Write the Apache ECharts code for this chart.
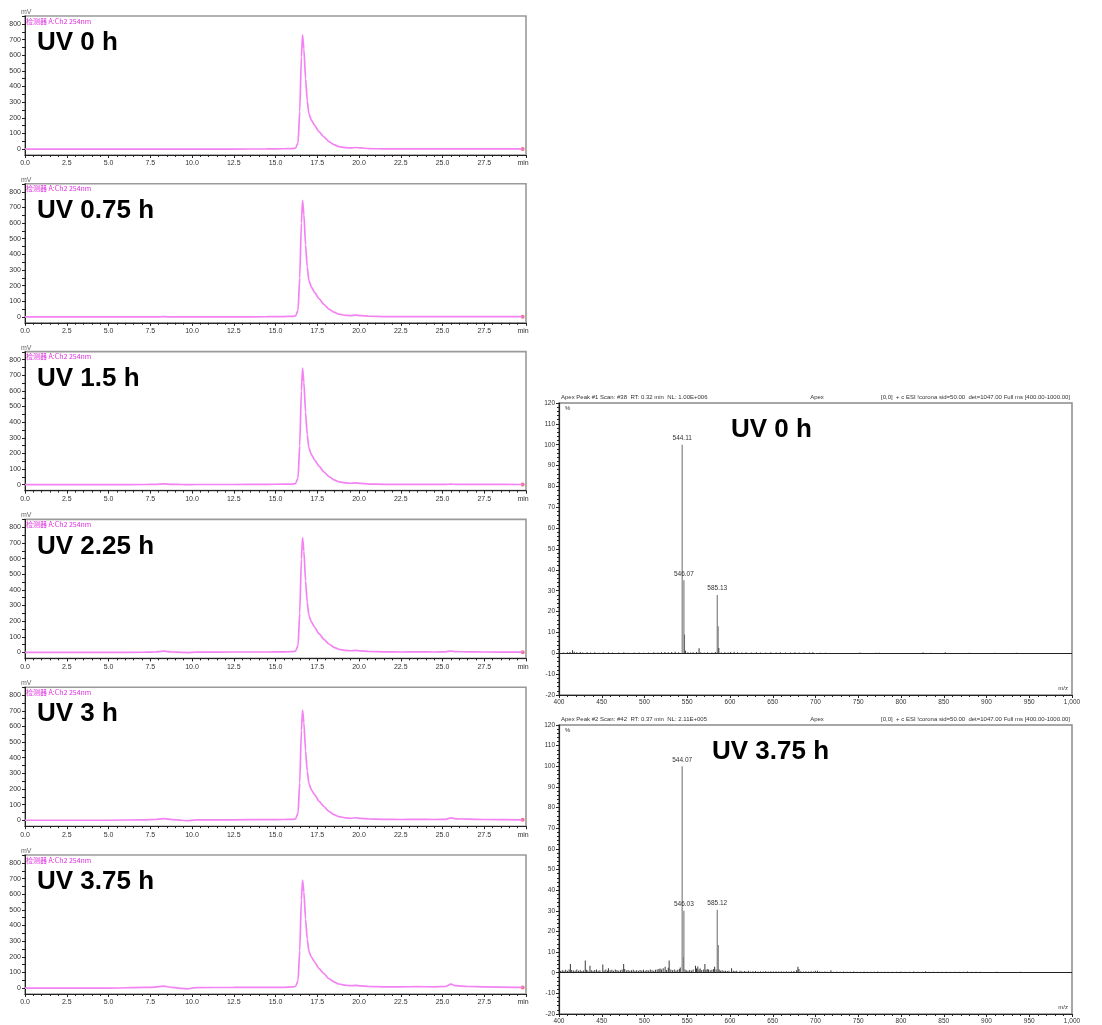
<!DOCTYPE html>
<html>
<head>
<meta charset="utf-8">
<script src="https://cdn.jsdelivr.net/npm/echarts@6/dist/echarts.min.js"></script>
<style>
  html, body { margin: 0; padding: 0; background: #fff; }
  #chart { width: 1102px; height: 1025px; }
</style>
</head>
<body>
<div id="chart"></div>
<script>
// ---- HPLC chromatograms (254 nm), retention time in min, signal in mV ----
const TIME = [0, 5, 7.2, 7.8, 8.3, 8.8, 9.4, 9.7, 10.2, 12.5, 14.5, 15.5, 16.0, 16.2, 16.35, 16.45, 16.55, 16.62, 16.7, 16.8,
  16.9, 17.0, 17.15, 17.35, 17.6, 17.9, 18.2, 18.5, 18.8, 19.2, 19.5, 19.8, 20.1, 20.6, 21.5, 22.5, 23.5, 24.5, 25.2, 25.5,
  25.8, 26.5, 27.5, 29.8];

const UV_0H    = [0, 0, 0, 0, 0, 0, 0, 0, 0, 0, 1, 2, 3, 6, 40, 240, 590, 730, 640, 450,
  310, 225, 185, 150, 112, 78, 48, 28, 16, 9, 7, 10, 7, 3, 1, 1, 1, 1, 1, 1, 1, 1, 1, 1];
const UV_075H  = [0, 0, 0, 0, 1, 0, 0, 0, 0, 0, 1, 2, 3, 6, 42, 250, 600, 745, 655, 460,
  318, 232, 190, 155, 116, 80, 50, 30, 17, 10, 8, 11, 8, 4, 2, 1, 1, 1, 1, 2, 1, 1, 1, 1];
const UV_15H   = [0, 0, 1, 2, 5, 2, 1, 0, 1, 1, 2, 3, 4, 7, 42, 250, 600, 745, 655, 462,
  320, 235, 192, 157, 118, 82, 52, 31, 18, 11, 9, 11, 8, 4, 2, 2, 2, 2, 2, 3, 2, 2, 2, 1];
const UV_225H  = [0, 0, 2, 3, 8, 3, 1, -1, 2, 3, 3, 4, 5, 8, 45, 250, 595, 735, 648, 458,
  320, 236, 195, 160, 120, 84, 54, 33, 20, 13, 11, 13, 10, 6, 4, 3, 4, 3, 4, 9, 5, 4, 3, 2];
const UV_3H    = [0, 0, 3, 5, 10, 4, 0, -3, 2, 3, 4, 5, 6, 9, 45, 240, 575, 705, 625, 445,
  315, 235, 195, 162, 123, 88, 57, 36, 23, 15, 13, 16, 12, 8, 6, 5, 6, 5, 6, 15, 9, 7, 5, 3];
const UV_375H  = [0, 0, 4, 6, 12, 5, -2, -5, 3, 4, 5, 5, 7, 10, 48, 240, 565, 690, 615, 440,
  312, 235, 198, 165, 126, 92, 60, 40, 26, 18, 15, 17, 14, 10, 8, 8, 9, 8, 10, 25, 15, 10, 8, 4];

const UV_RUNS = [UV_0H, UV_075H, UV_15H, UV_225H, UV_3H, UV_375H];
const UV_LABELS = ['UV 0 h', 'UV 0.75 h', 'UV 1.5 h', 'UV 2.25 h', 'UV 3 h', 'UV 3.75 h'];
const CHROM_Y_LABELS = [0, 100, 200, 300, 400, 500, 600, 700, 800];
const CHROM_Y_TICKS = [0, 50, 100, 150, 200, 250, 300, 350, 400, 450, 500, 550, 600, 650, 700, 750, 800, 850];
const DETECTOR_LABEL = '检测器 A:Ch2 254nm';

// ---- ESI mass spectra, m/z vs relative abundance (%) ----
const MS_LABELS = ['UV 0 h', 'UV 3.75 h'];
const MS_HEADERS_LEFT = [
  'Apex Peak #1 Scan: #38  RT: 0.32 min  NL: 1.00E+006',
  'Apex Peak #2 Scan: #42  RT: 0.37 min  NL: 2.11E+005'
];
const MS_HEADER_MID = 'Apex';
const MS_HEADER_RIGHT = '[0,0]  + c ESI !corona sid=50.00  det=1047.00 Full ms [400.00-1000.00]';

const MS_PEAKS_0H = [[544.11, 100], [546.07, 35], [585.13, 28]];
const MS_NOISE_0H = [
  [405, 0.4], [410, 0.5], [413, 0.6], [416, 1.5], [418, 0.7], [421, 0.5], [425, 0.6], [428, 0.4], [433, 0.5],
  [437, 0.4], [442, 0.5], [447, 0.3], [452, 0.4], [458, 0.5], [463, 0.4], [470, 0.4], [476, 0.5], [481, 0.3],
  [488, 0.4], [494, 0.4], [499, 0.3], [505, 0.4], [511, 0.5], [516, 0.4], [520, 0.5], [524, 0.6], [528, 0.5],
  [532, 0.6], [536, 0.7], [540, 0.5], [547.0, 9], [548.2, 1.2], [551, 0.5], [554, 0.4], [557, 0.5], [561, 0.6],
  [564, 2.4], [566, 0.5], [570, 0.4], [574, 0.5], [579, 0.4], [583, 0.6], [586.1, 13], [587.1, 2.5], [590, 0.4],
  [594, 0.5], [598, 0.4], [601, 0.6], [605, 0.7], [609, 0.5], [614, 0.4], [619, 0.5], [625, 0.4], [631, 0.5],
  [636, 0.4], [642, 0.4], [648, 0.5], [654, 0.4], [659, 0.5], [665, 0.4], [671, 0.4], [676, 0.5], [681, 0.4],
  [687, 0.4], [693, 0.4], [697, 0.5], [706, 0.3], [712, 0.3], [752, 0.4], [771, 0.3], [775, 0.3], [826, 0.4],
  [835, 0.3], [852, 0.5], [880, 0.3], [910, 0.3], [935, 0.3]
];

const MS_PEAKS_375H = [[544.07, 100], [546.03, 30], [585.12, 30.5]];
const MS_NOISE_375H = [
  [402, 0.8], [404, 1.2], [406, 0.9], [408, 1.4], [410, 1.0], [412, 1.6], [413.5, 4.2], [415, 1.3], [417, 1.1],
  [419, 0.9], [421, 1.5], [423, 1.0], [425, 1.3], [427, 0.8], [429, 1.1], [430.9, 5.9], [432.5, 1.4], [434, 1.0],
  [436.4, 3.4], [438, 1.2], [440, 0.9], [442, 1.3], [444, 1.6], [446, 1.0], [448, 1.2], [451.4, 4.0], [453, 1.1],
  [455, 1.5], [457, 0.9], [458, 2.2], [460, 1.2], [462, 1.4], [464, 1.0], [466, 1.6], [468, 1.3], [470, 1.0],
  [472, 1.2], [474, 1.5], [475.8, 4.2], [477, 1.8], [479, 1.1], [481, 1.3], [483, 0.9], [485, 1.2], [487, 1.4],
  [489, 1.0], [491, 1.2], [493, 0.9], [495, 1.3], [497, 1.1], [499, 1.4], [501, 1.0], [503, 1.3], [505, 1.1],
  [507, 1.5], [509, 1.2], [511, 1.0], [513, 1.4], [515, 1.6], [517, 1.8], [518.4, 2.0], [520, 1.5], [522, 2.2],
  [524.3, 2.9], [526, 1.3], [528, 2.4], [529, 5.9], [531, 1.6], [533, 1.2], [535, 1.5], [537, 1.1], [539, 1.4],
  [541, 1.8], [542, 2.5], [545.6, 7.5], [547.5, 1.5], [549, 1.2], [551, 1.0], [553, 1.3], [555, 1.1], [557, 1.6],
  [559.8, 3.4], [561, 2.0], [562.5, 3.0], [564, 1.5], [565.3, 2.0], [567, 1.2], [569, 1.5], [570.8, 4.2], [572, 1.3],
  [573.5, 1.8], [575, 1.5], [577, 1.2], [579, 1.4], [581, 1.8], [582.2, 2.9], [584, 1.5], [586.2, 13.4], [587.5, 1.6],
  [589, 1.0], [591, 1.2], [593, 0.9], [595, 1.0], [597, 0.8], [599, 1.0], [602, 2.2], [604, 1.0], [606, 0.8],
  [608, 0.9], [611.8, 1.0], [614, 0.7], [617, 0.8], [619, 0.6], [621.7, 0.9], [624, 0.6], [627, 0.7], [630, 0.8],
  [633, 0.6], [636, 0.7], [639, 0.6], [642, 0.8], [645, 0.6], [648, 0.7], [651, 0.6], [654, 0.7], [657, 0.6],
  [660, 0.7], [663, 0.6], [666, 0.7], [669, 0.6], [672, 0.7], [675, 0.8], [678, 1.2], [679.6, 2.9], [680.8, 1.8],
  [683, 0.7], [686, 0.6], [689, 0.7], [692, 0.6], [695, 0.7], [698, 0.6], [700, 0.9], [702.5, 1.0], [705, 0.6],
  [708, 0.5], [711, 0.6], [714, 0.5], [718.2, 1.2], [721, 0.5], [725, 0.6], [729, 0.5], [733, 0.6], [737, 0.5],
  [741, 0.5], [745, 0.6], [749, 0.5], [753, 0.5], [757, 0.6], [761, 0.5], [765, 0.5], [769, 0.5], [773, 0.6],
  [777, 0.5], [781, 0.5], [785, 0.5], [790, 0.5], [795, 0.5], [800, 0.6], [805, 0.5], [810, 0.5], [815, 0.6],
  [820, 0.5], [825, 0.5], [829, 0.7], [833, 0.5], [838, 0.5], [843, 0.5], [848, 0.5], [853, 0.5], [858, 0.5],
  [863, 0.5], [868, 0.5], [873, 0.5], [878, 0.6], [883, 0.5], [888, 0.5], [893, 0.5], [898, 0.4], [905, 0.4],
  [912, 0.5], [918, 0.4], [925, 0.4], [932, 0.4], [940, 0.5], [947, 0.4], [955, 0.4], [962, 0.4], [975, 0.4]
];
const MS_PEAKS = [MS_PEAKS_0H, MS_PEAKS_375H];
const MS_NOISE = [MS_NOISE_0H, MS_NOISE_375H];

// ---- layout & style ----
const SANS = '"Liberation Sans", Arial, sans-serif';
const CJK = '"Noto Sans CJK SC", sans-serif';
const TRACE = '#f383f3';
const AXIS = '#222';

const chart = echarts.init(document.getElementById('chart'), null, { renderer: 'canvas' });

const grids = [], xAxes = [], yAxes = [], series = [], graphics = [];

// chromatogram panels, left column
const CH_LEFT = 25, CH_W = 501, CH_H = 139, CH_TOP0 = 16, CH_STEP = 167.8;
UV_RUNS.forEach((vals, i) => {
  const top = CH_TOP0 + CH_STEP * i;
  grids.push({ left: CH_LEFT, top: top, width: CH_W, height: CH_H, show: true,
    borderColor: '#9a9a9a', borderWidth: 1.6, outerBoundsMode: 'none' });
  const g = grids.length - 1;
  xAxes.push({
    type: 'value', gridIndex: g, min: 0, max: 30, interval: 2.5,
    axisLine: { show: true, onZero: false, lineStyle: { color: AXIS, width: 1 } },
    axisTick: { show: true, length: 3, lineStyle: { color: AXIS } },
    minorTick: { show: true, splitNumber: 5, length: 2, lineStyle: { color: AXIS } },
    splitLine: { show: false },
    axisLabel: { fontSize: 7, fontFamily: SANS, color: '#333', margin: 5, showMaxLabel: true,
      formatter: v => (v === 30 ? 'min   ' : v.toFixed(1)) }
  });
  yAxes.push({
    type: 'value', gridIndex: g, min: -38, max: 851,
    axisLine: { show: true, onZero: false, lineStyle: { color: AXIS, width: 1 } },
    axisTick: { show: true, length: 3, customValues: CHROM_Y_TICKS, lineStyle: { color: AXIS } },
    splitLine: { show: false },
    axisLabel: { customValues: CHROM_Y_LABELS, fontSize: 7, fontFamily: SANS, color: '#333', margin: 4 }
  });
  series.push({
    type: 'line', xAxisIndex: g, yAxisIndex: g,
    data: TIME.map((t, k) => [t, vals[k]]),
    showSymbol: false, smooth: 0.2, smoothMonotone: 'x',
    lineStyle: { color: TRACE, width: 1.7 }, silent: true
  });
  series.push({
    type: 'scatter', xAxisIndex: g, yAxisIndex: g,
    data: [[TIME[TIME.length - 1], vals[vals.length - 1]]],
    symbol: 'circle', symbolSize: 4, itemStyle: { color: '#e8506a' }, silent: true
  });
  graphics.push({ type: 'text', x: 21, y: top - 4,
    style: { text: 'mV', font: '7px ' + SANS, fill: '#666', align: 'left', verticalAlign: 'middle' } });
  graphics.push({ type: 'text', x: 26, y: top + 5,
    style: { text: DETECTOR_LABEL, font: '7px ' + CJK, fill: '#e030e0', align: 'left', verticalAlign: 'middle' } });
  graphics.push({ type: 'text', x: 37, y: top + 27,
    style: { text: UV_LABELS[i], font: 'bold 26px ' + SANS, fill: '#000', align: 'left', verticalAlign: 'middle' } });
});

// mass spectra, right column
const MS_LEFT = 559, MS_W = 513;
const MS_BOXES = [{ top: 403, height: 292 }, { top: 725, height: 289 }];
const MS_TITLE_X = [731, 712];
MS_BOXES.forEach((box, i) => {
  grids.push({ left: MS_LEFT, top: box.top, width: MS_W, height: box.height, show: true,
    borderColor: '#8a8a8a', borderWidth: 1.5, outerBoundsMode: 'none' });
  const g = grids.length - 1;
  xAxes.push({
    type: 'value', gridIndex: g, min: 400, max: 1000, interval: 50,
    axisLine: { show: true, onZero: false, lineStyle: { color: AXIS, width: 1.2 } },
    axisTick: { show: true, length: 3, lineStyle: { color: AXIS } },
    minorTick: { show: true, splitNumber: 5, length: 2, lineStyle: { color: AXIS } },
    splitLine: { show: false },
    axisLabel: { fontSize: 6.5, fontFamily: SANS, color: '#333', margin: 4, showMaxLabel: true, showMinLabel: true,
      formatter: v => (v === 1000 ? '1,000' : String(v)) }
  });
  yAxes.push({
    type: 'value', gridIndex: g, min: -20, max: 120, interval: 10,
    axisLine: { show: true, onZero: false, lineStyle: { color: AXIS, width: 1.2 } },
    axisTick: { show: true, length: 3, lineStyle: { color: AXIS } },
    minorTick: { show: true, splitNumber: 5, length: 2, lineStyle: { color: AXIS } },
    splitLine: { show: false },
    axisLabel: { fontSize: 6.5, fontFamily: SANS, color: '#333', margin: 4 }
  });
  series.push({
    type: 'bar', xAxisIndex: g, yAxisIndex: g, data: MS_NOISE[i],
    barWidth: 1, barGap: '-100%', itemStyle: { color: '#3a3a3a' }, silent: true,
    markLine: { silent: true, symbol: 'none', label: { show: false },
      lineStyle: { color: AXIS, type: 'solid', width: 1 }, data: [{ yAxis: 0 }] }
  });
  series.push({
    type: 'bar', xAxisIndex: g, yAxisIndex: g, data: MS_PEAKS[i],
    barWidth: 1.3, barGap: '-100%', itemStyle: { color: '#8c8c8c' }, silent: true,
    label: { show: true, position: 'top', distance: 3, fontSize: 6.5, fontFamily: SANS, color: '#333',
      formatter: p => p.value[0].toFixed(2) }
  });
  const hy = box.top - 6;
  graphics.push({ type: 'text', x: 561, y: hy,
    style: { text: MS_HEADERS_LEFT[i], font: '6px ' + SANS, fill: '#333', align: 'left', verticalAlign: 'middle' } });
  graphics.push({ type: 'text', x: 817, y: hy,
    style: { text: MS_HEADER_MID, font: '6px ' + SANS, fill: '#333', align: 'center', verticalAlign: 'middle' } });
  graphics.push({ type: 'text', x: 1070, y: hy,
    style: { text: MS_HEADER_RIGHT, font: '6px ' + SANS, fill: '#333', align: 'right', verticalAlign: 'middle' } });
  graphics.push({ type: 'text', x: 565, y: box.top + 5,
    style: { text: '%', font: '6px ' + SANS, fill: '#333', align: 'left', verticalAlign: 'middle' } });
  graphics.push({ type: 'text', x: 1068, y: box.top + box.height - 7,
    style: { text: 'm/z', font: '6px ' + SANS, fill: '#333', align: 'right', verticalAlign: 'middle' } });
  graphics.push({ type: 'text', x: MS_TITLE_X[i], y: box.top + 27,
    style: { text: MS_LABELS[i], font: 'bold 26px ' + SANS, fill: '#000', align: 'left', verticalAlign: 'middle' } });
});

chart.setOption({
  animation: false,
  backgroundColor: '#ffffff',
  grid: grids,
  xAxis: xAxes,
  yAxis: yAxes,
  series: series,
  graphic: graphics
});
</script>
</body>
</html>
